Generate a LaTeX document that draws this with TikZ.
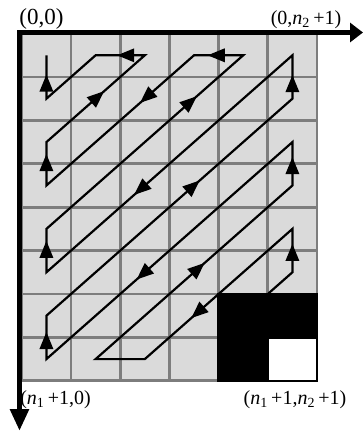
\documentclass[tikz,border=0pt]{standalone}
\usepackage{fontspec}
\setmainfont{Liberation Serif}
\usetikzlibrary{arrows.meta,decorations.markings}
\definecolor{cellgray}{RGB}{218,218,218}
\definecolor{gridgray}{RGB}{125,125,125}
\begin{document}
\begin{tikzpicture}[x=1pt,y=-1pt,
  gridline/.style={draw=gridgray,line width=2.8pt},
  zig/.style={line width=2.2pt,line join=miter,line cap=butt},
  arr/.style={postaction={decorate},decoration={markings,mark=at position #1 with {\fill[black] (1pt,0pt) -- (-16pt,7pt) -- (-16pt,-7pt) -- cycle;}}},
  arr/.default=0.6,
  axis/.style={line width=5.5pt,line join=miter},
  lbl/.style={font=\fontsize{20}{24}\selectfont,anchor=base,inner sep=0pt}]
\clip (0,0) rectangle (363,432);
\fill[white] (0,0) rectangle (363,432);
% cells
\fill[cellgray] (21.8,33.6) rectangle (317,380.8);
\foreach \i in {0,...,6} \draw[gridline] ({21.8+49.2*\i},33.6) -- ({21.8+49.2*\i},380.8);
\foreach \j in {0,...,8} \draw[gridline] (21.8,{33.6+43.4*\j}) -- (317,{33.6+43.4*\j});
% black block and white corner cell
\fill[black] (217.3,292.7) rectangle (318.3,382.1);
\fill[white] (269.3,338.9) rectangle (315.8,379.6);
% cell centres
\foreach \c in {1,...,6}
  \foreach \r in {1,...,8}
    \coordinate (p\c-\r) at ({21.8+49.2*(\c-0.5)},{33.6+43.4*(\r-0.5)});
% zigzag path
\draw[zig] (p1-1) -- (p1-2) -- (p2-1) -- (p3-1) -- (p1-3) -- (p1-4) -- (p4-1) -- (p5-1)
  -- (p1-5) -- (p1-6) -- (p6-1) -- (p6-2) -- (p1-7) -- (p1-8) -- (p6-3) -- (p6-4)
  -- (p2-8) -- (p3-8) -- (p6-5) -- (p6-6) -- (p5-7);
% arrows (pointing back toward the origin)
\path[arr=0.53] (p1-2) -- (p1-1);
\path[arr=0.54] (p3-1) -- (p2-1);
\path[arr=0.58] (p1-3) -- (p3-1);
\path[arr=0.70] (p1-4) -- (p1-3);
\path[arr=0.36] (p4-1) -- (p1-4);
\path[arr=0.70] (p5-1) -- (p4-1);
\path[arr=0.76] (p1-5) -- (p5-1);
\path[arr=0.70] (p1-6) -- (p1-5);
\path[arr=0.64] (p6-1) -- (p1-6);
\path[arr=0.52] (p6-2) -- (p6-1);
\path[arr=0.62] (p1-7) -- (p6-2);
\path[arr=0.60] (p1-8) -- (p1-7);
\path[arr=0.63] (p6-3) -- (p1-8);
\path[arr=0.63] (p6-4) -- (p6-3);
\path[arr=0.55] (p2-8) -- (p6-4);
\path[arr=0.68] (p6-5) -- (p3-8);
\path[arr=0.63] (p6-6) -- (p6-5);
% axes
\coordinate (o) at (19.5,32.5);
\coordinate (xe) at (363,32.5);
\coordinate (ye) at (19.5,431);
\draw[axis,{Triangle[length=22pt,width=18pt]}-{Triangle[length=13pt,width=19pt]}] (ye) -- (o) -- (xe);
% labels
\node[lbl,font=\fontsize{23}{26}\selectfont] (l00) at (41.5,24) {(0,0)};
\node[lbl] (l0n) at (306,24) {(0,\textit{n}\textsubscript{2}\,+1)};
\node[lbl] (ln0) at (55.5,404) {(\textit{n}\textsubscript{1}\,+1,0)};
\node[lbl] (lnn) at (295,404) {(\textit{n}\textsubscript{1}\,+1,\textit{n}\textsubscript{2}\,+1)};
\end{tikzpicture}
\end{document}
